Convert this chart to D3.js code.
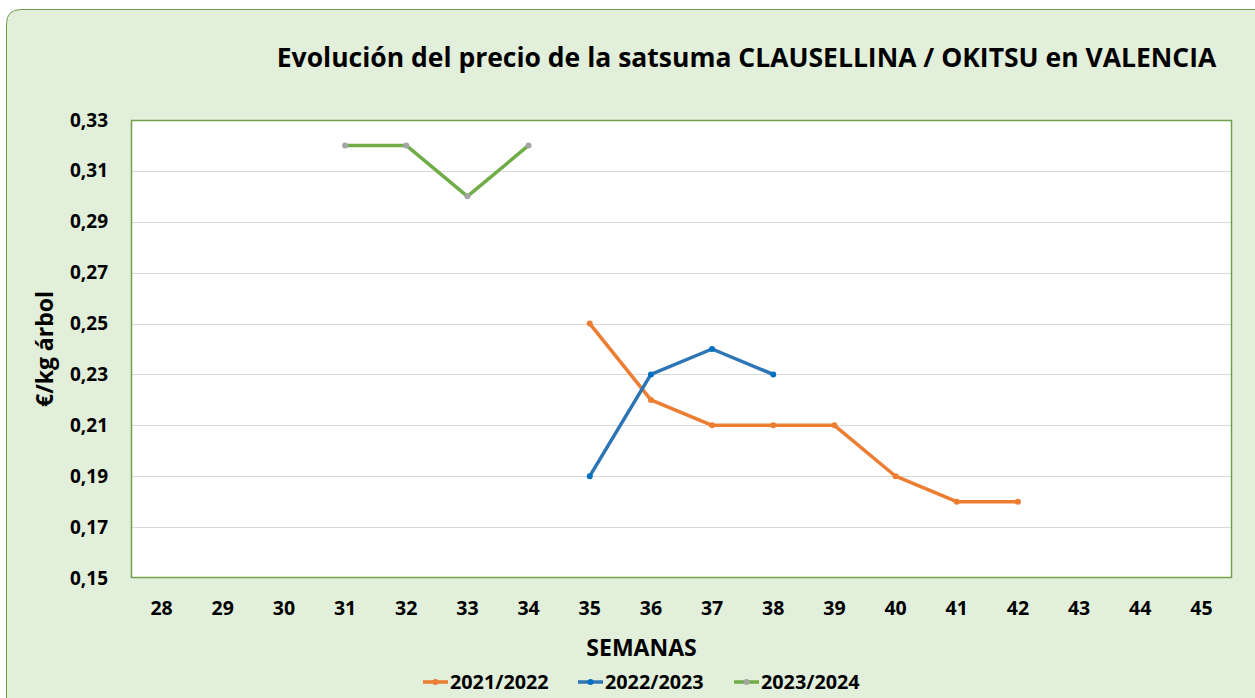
<!DOCTYPE html>
<html lang="es">
<meta charset="utf-8">
<head>
<title>Clausellina / Okitsu</title>
<style>
  body { margin: 0; background: #fff; }
  text { font-family: "Open Sans", sans-serif; font-weight: bold; fill: #000; }
  .grid line { stroke: #d9d9d9; stroke-width: 1; }
  .line { fill: none; stroke-width: 3.5px; stroke-linejoin: round; }
</style>
</head>
<body>
<svg width="1255" height="698"></svg>
<script src="https://cdn.jsdelivr.net/npm/d3@7"></script>
<script>

var weeks = [28,29,30,31,32,33,34,35,36,37,38,39,40,41,42,43,44,45];
var yTicks = [0.15,0.17,0.19,0.21,0.23,0.25,0.27,0.29,0.31,0.33];

var weeks2122 = [35,36,37,38,39,40,41,42];
var price2122 = [0.25,0.22,0.21,0.21,0.21,0.19,0.18,0.18];
var weeks2223 = [35,36,37,38];
var price2223 = [0.19,0.23,0.24,0.23];
var weeks2324 = [31,32,33,34];
var price2324 = [0.32,0.32,0.30,0.32];

var seriesNames = ["2021/2022","2022/2023","2023/2024"];

var series = [
  {name: seriesNames[0], line: "#ED7D31", dot: "#ED7D31", values: weeks2122.map(function(w,i){ return {w: w, v: price2122[i]}; })},
  {name: seriesNames[1], line: "#2E75B6", dot: "#0070C0", values: weeks2223.map(function(w,i){ return {w: w, v: price2223[i]}; })},
  {name: seriesNames[2], line: "#70AD47", dot: "#A5A5A5", values: weeks2324.map(function(w,i){ return {w: w, v: price2324[i]}; })}
];

var svg = d3.select("svg");

// panel background (rounded top-left corner, runs off right/bottom)
svg.append("path")
  .attr("d", "M6.5,720 V24 Q6.5,9.5 21,9.5 H1270 V720 Z")
  .attr("fill", "#e2efda")
  .attr("stroke", "#70a04c")
  .attr("stroke-width", 1);

var margin = {left: 131, top: 120, right: 1232, bottom: 578};

var x = d3.scaleBand().domain(weeks).range([margin.left, margin.right]);
var y = d3.scaleLinear().domain([0.15, 0.33]).range([margin.bottom, margin.top]);

svg.append("rect")
  .attr("x", margin.left).attr("y", margin.top)
  .attr("width", margin.right - margin.left).attr("height", margin.bottom - margin.top)
  .attr("fill", "#fff");

svg.append("g").attr("class", "grid")
  .selectAll("line").data(yTicks.slice(1, -1)).enter().append("line")
  .attr("x1", margin.left).attr("x2", margin.right)
  .attr("y1", function(d){ return Math.round(y(d)) + 0.5; })
  .attr("y2", function(d){ return Math.round(y(d)) + 0.5; });

// plot border
svg.append("rect")
  .attr("x", margin.left + 0.5).attr("y", margin.top + 0.5)
  .attr("width", margin.right - margin.left - 1).attr("height", margin.bottom - margin.top - 1)
  .attr("fill", "none").attr("stroke", "#70a04c").attr("stroke-width", 1.5);

var yAxis = d3.axisLeft(y).tickValues(yTicks).tickSize(0).tickPadding(23)
  .tickFormat(function(d){ return d3.format(".2f")(d).replace(".", ","); });
svg.append("g").attr("transform", "translate(" + margin.left + ",0)").call(yAxis)
  .call(function(g){ g.select(".domain").remove(); })
  .selectAll("text").style("font-size", "19px").style("font-family", "Open Sans, sans-serif");

var xAxis = d3.axisBottom(x).tickSize(0).tickPadding(23);
svg.append("g").attr("transform", "translate(0," + margin.bottom + ")").call(xAxis)
  .call(function(g){ g.select(".domain").remove(); })
  .selectAll("text").style("font-size", "19.5px").style("font-family", "Open Sans, sans-serif");

var line = d3.line()
  .x(function(d){ return x(d.w) + x.bandwidth() / 2; })
  .y(function(d){ return y(d.v); });

var s = svg.selectAll(".serie").data(series).enter().append("g").attr("class", "serie");
s.append("path").attr("class", "line")
  .attr("d", function(d){ return line(d.values); })
  .style("stroke", function(d){ return d.line; });
s.each(function(d){
  d3.select(this).selectAll("circle").data(d.values).enter().append("circle")
    .attr("cx", function(p){ return x(p.w) + x.bandwidth() / 2; })
    .attr("cy", function(p){ return y(p.v); })
    .attr("r", 3)
    .attr("fill", d.dot);
});

// titles
svg.append("text").attr("x", 746.5).attr("y", 67).attr("text-anchor", "middle")
  .style("font-size", "26.5px").text("Evolución del precio de la satsuma CLAUSELLINA / OKITSU en VALENCIA");

svg.append("text").attr("x", 641.5).attr("y", 656).attr("text-anchor", "middle")
  .style("font-size", "23px").text("SEMANAS");

svg.append("text").attr("transform", "translate(53,349) rotate(-90)").attr("text-anchor", "middle")
  .style("font-size", "23px").text("€/kg árbol");

// legend
var legX = [423, 578, 734];
var leg = svg.selectAll(".leg").data(series).enter().append("g")
  .attr("transform", function(d, i){ return "translate(" + legX[i] + ",682)"; });
leg.append("line").attr("x1", 0).attr("x2", 25).attr("y1", 0).attr("y2", 0)
  .attr("stroke", function(d){ return d.line; }).attr("stroke-width", 3.5);
leg.append("circle").attr("cx", 12.5).attr("cy", 0).attr("r", 3).attr("fill", function(d){ return d.dot; });
leg.append("text").attr("x", 27).attr("y", 7).style("font-size", "19.8px").text(function(d){ return d.name; });

</script>
</body>
</html>
